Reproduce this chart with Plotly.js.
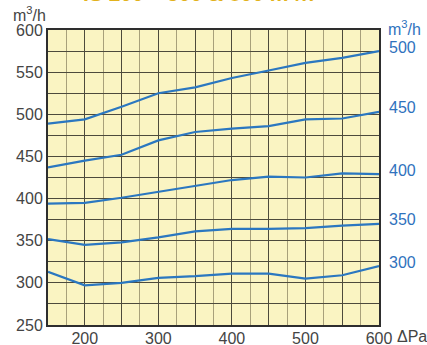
<!DOCTYPE html>
<html><head><meta charset="utf-8">
<script src="https://cdn.plot.ly/plotly-3.0.1.min.js"></script>
<style>html,body{margin:0;padding:0;background:#fff;}#chart{width:427px;height:345px;}</style>
</head><body><div id="chart"></div>
<script>
const pressure = [150, 200, 250, 300, 350, 400, 450, 500, 550, 600];
const flow500 = [489, 494, 509, 525, 532, 543, 552, 561, 567, 575];
const flow450 = [437, 445, 452, 469, 479, 483, 486, 494, 495, 503];
const flow400 = [394, 395, 401, 408, 415, 422, 426, 425, 430, 429];
const flow350 = [352, 345, 348, 354, 361, 364, 364, 365, 368, 370];
const flow300 = [313, 297, 300, 306, 308, 311, 311, 305, 309, 320];
const curveNames = ['500', '450', '400', '350', '300'];
const xTickVals = [150, 200, 250, 300, 350, 400, 450, 500, 550, 600];
const xTickText = ['', '200', '', '300', '', '400', '', '500', '', '600'];
const titleText = 'IS 200 – 500 & 800 m³/h';

const series = [flow500, flow450, flow400, flow350, flow300];
const blue = '#2b77c0';
const traces = series.map((s, i) => ({
  x: pressure, y: s, type: 'scatter', mode: 'lines', name: curveNames[i],
  line: {color: blue, width: 2.2}, hoverinfo: 'skip'
}));

const annotations = series.map((s, i) => ({
  xref: 'paper', x: 1, xanchor: 'left', xshift: 8,
  yref: 'y', y: s[s.length - 1], yanchor: 'middle', yshift: 4,
  text: curveNames[i], showarrow: false,
  font: {family: 'Liberation Sans, Arial, sans-serif', size: 16, color: '#2f72bd'}
}));
annotations.push({
  xref: 'paper', x: 0, xanchor: 'right', xshift: 0,
  yref: 'paper', y: 1, yanchor: 'middle', yshift: 16,
  text: 'm<sup>3</sup>/h', showarrow: false,
  font: {family: 'Liberation Sans, Arial, sans-serif', size: 16, color: '#444'}
});
annotations.push({
  xref: 'paper', x: 1, xanchor: 'left', xshift: 7,
  yref: 'paper', y: 1, yanchor: 'middle', yshift: 2,
  text: 'm<sup>3</sup>/h', showarrow: false,
  font: {family: 'Liberation Sans, Arial, sans-serif', size: 16, color: '#2f72bd'}
});
annotations.push({
  xref: 'paper', x: 1, xanchor: 'left', xshift: 16,
  yref: 'paper', y: 0, yanchor: 'top', yshift: -1,
  text: 'ΔPa', showarrow: false,
  font: {family: 'Liberation Sans, Arial, sans-serif', size: 16, color: '#444'}
});
annotations.push({
  xref: 'paper', x: 0.456, xanchor: 'center',
  yref: 'paper', y: 1, yanchor: 'bottom', yshift: 23,
  text: '<b>' + titleText + '</b>', showarrow: false,
  font: {family: 'Liberation Sans, Arial, sans-serif', size: 21, color: '#e2b21c'}
});

const layout = {
  width: 427, height: 345,
  margin: {l: 48, r: 48, t: 30, b: 20, pad: 0},
  paper_bgcolor: '#ffffff', plot_bgcolor: '#faf4c2',
  showlegend: false,
  font: {family: 'Liberation Sans, Arial, sans-serif', size: 16, color: '#444'},
  xaxis: {
    range: [150, 600], tickmode: 'array', tickvals: xTickVals, ticktext: xTickText,
    showgrid: true, gridcolor: '#4d4a3c', gridwidth: 1,
    minor: {dtick: 25, tick0: 0, showgrid: true, gridcolor: '#a8a07a', gridwidth: 1},
    showline: true, mirror: true, linecolor: '#2e2e2e', linewidth: 2,
    ticks: '', zeroline: false, fixedrange: true, ticklabelstandoff: -2,
    tickfont: {size: 16, color: '#444'}
  },
  yaxis: {
    range: [250, 600], tick0: 0, dtick: 50,
    showgrid: true, gridcolor: '#4d4a3c', gridwidth: 1,
    minor: {dtick: 25, tick0: 0, showgrid: true, gridcolor: '#4d4a3c', gridwidth: 1},
    showline: true, mirror: true, linecolor: '#2e2e2e', linewidth: 2,
    ticks: '', zeroline: false, fixedrange: true,
    tickfont: {size: 16, color: '#444'}
  },
  annotations: annotations
};

Plotly.newPlot('chart', traces, layout, {displayModeBar: false, staticPlot: true});
</script>
</body></html>
